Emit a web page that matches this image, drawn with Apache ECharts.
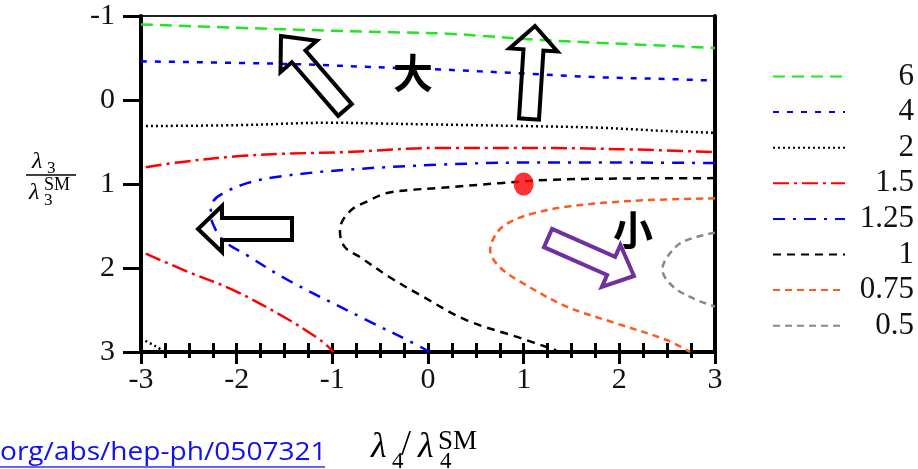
<!DOCTYPE html>
<html><head><meta charset="utf-8">
<script src="https://cdn.jsdelivr.net/npm/echarts@6/dist/echarts.min.js"></script>
<style>html,body{margin:0;padding:0;background:#fff;}#c{width:918px;height:469px;}</style>
</head><body><div id="c"></div>
<script>
// ---- data ----
const levels = ['6', '4', '2', '1.5', '1.25', '1', '0.75', '0.5'];
const xTicks = [-3, -2, -1, 0, 1, 2, 3];
const yTicks = [-1, 0, 1, 2, 3];
const contour6 = [[-3,-0.9],[-2,-0.86],[-1,-0.825],[-0.3,-0.805],[0.2,-0.79],[0.55,-0.765],[1.1,-0.72],[1.8,-0.68],[2.5,-0.645],[3,-0.62]];
const contour4 = [[-3,-0.46],[-1.5,-0.43],[-0.3,-0.38],[0,-0.37],[1.1,-0.31],[1.8,-0.27],[2.5,-0.25],[3,-0.23]];
const contour2a = [[-3,0.31],[-2,0.30],[-1,0.27],[-0.5,0.28],[0,0.29],[1,0.31],[1.8,0.33],[2.5,0.37],[3,0.39]];
const contour2b = [[-3,2.84],[-2.85,2.93],[-2.75,3.0]];
const contour15a = [[-2.95,0.80],[-2.59,0.74],[-2,0.67],[-1.5,0.64],[-0.85,0.62],[0.12,0.57],[1,0.57],[2,0.585],[3,0.62]];
const contour15b = [[-2.95,1.83],[-2.5,2.05],[-2.04,2.26],[-1.51,2.58],[-1.16,2.83],[-1.05,2.93],[-0.99,3.0]];
const contour125 = [[3,0.75],[2,0.745],[1,0.745],[0.12,0.77],[-0.85,0.83],[-1.55,0.91],[-1.89,0.99],[-2.14,1.11],[-2.25,1.21],[-2.27,1.33],[-2.25,1.47],[-2.14,1.67],[-1.89,1.85],[-1.47,2.14],[-0.64,2.62],[-0.16,2.89],[0.02,3.0]];
const contour1 = [[3,0.93],[2,0.935],[1.27,0.95],[0.75,0.99],[0.09,1.05],[-0.17,1.07],[-0.44,1.11],[-0.64,1.21],[-0.78,1.29],[-0.89,1.43],[-0.92,1.57],[-0.87,1.75],[-0.71,1.87],[-0.40,2.11],[-0.085,2.32],[0.40,2.62],[0.93,2.82],[1.34,2.98]];
const contour075 = [[3,1.17],[2.14,1.20],[1.45,1.27],[1.10,1.35],[0.86,1.45],[0.72,1.58],[0.65,1.79],[0.75,1.99],[0.99,2.18],[1.45,2.46],[1.97,2.66],[2.50,2.86],[2.74,3.0]];
const contour05 = [[3,1.58],[2.66,1.69],[2.50,1.87],[2.45,2.02],[2.56,2.22],[2.77,2.36],[3,2.46]];
const smPoint = [[1, 1]];

const chart = echarts.init(document.getElementById('c'));
const serif = '"Liberation Serif", "DejaVu Serif", serif';

const styles = {
  '6':    {color:'#22e622', type:[12,7]},
  '4':    {color:'#0000ff', type:[6,8]},
  '2':    {color:'#000000', type:[2,3]},
  '1.5':  {color:'#ff0000', type:[16,5,3,5]},
  '1.25': {color:'#0000ff', type:[12,8,3,8]},
  '1':    {color:'#000000', type:[8,6]},
  '0.75': {color:'#ff5a1e', type:[7,5]},
  '0.5':  {color:'#888888', type:[7,5]}
};
const curves = [
  ['6', contour6], ['4', contour4], ['2', contour2a], ['2', contour2b],
  ['1.5', contour15a], ['1.5', contour15b], ['1.25', contour125],
  ['1', contour1], ['0.75', contour075], ['0.5', contour05]
];
const series = curves.map(([name, data]) => ({
  name, type:'line', data, symbol:'none', showSymbol:false, smooth:0.35,
  lineStyle:{color:styles[name].color, width:2.5, type:styles[name].type},
  itemStyle:{color:styles[name].color}, z:3
}));
series.push({type:'scatter', data:smPoint, symbolSize:[20,23], itemStyle:{color:'#ff0000'}, z:4, silent:true});

function arrow(tx,ty,hx,hy,sw,hw,hl,color){
  const dx=hx-tx, dy=hy-ty, L=Math.hypot(dx,dy);
  const ux=dx/L, uy=dy/L, nx=-uy, ny=ux, b=L-hl;
  const P=(a,n)=>[tx+ux*a+nx*n, ty+uy*a+ny*n];
  return {type:'polygon', z:100, shape:{points:[P(0,-sw/2),P(b,-sw/2),P(b,-hw/2),P(L,0),P(b,hw/2),P(b,sw/2),P(0,sw/2)]},
    style:{fill:null, stroke:color, lineWidth:4, lineJoin:'miter'}};
}
function txt(x,y,text,size,italic){
  return {type:'text', x, y, z:100, style:{text, font:(italic?'italic ':'')+size+'px '+serif, fill:'#000', textVerticalAlign:'top'}};
}

const tickStyle = {color:'#000', width:3};
chart.setOption({
  animation:false,
  grid:{left:141, right:203, top:16, bottom:117, show:true, borderColor:'#222', borderWidth:2},
  xAxis:[{type:'value', min:xTicks[0], max:xTicks[xTicks.length-1], interval:1, position:'bottom',
    axisLine:{onZero:false, lineStyle:{color:'#000', width:4}},
    axisTick:{inside:false, length:12, lineStyle:tickStyle},
    minorTick:{show:true, splitNumber:4, length:6, lineStyle:tickStyle},
    splitLine:{show:false},
    axisLabel:{color:'#111', fontFamily:serif, fontSize:30, margin:13}},
    {type:'value', min:xTicks[0], max:xTicks[xTicks.length-1], interval:1, position:'top', offset:-336,
    axisLine:{show:false, onZero:false},
    axisTick:{show:true, inside:false, length:9, lineStyle:tickStyle},
    minorTick:{show:true, splitNumber:4, length:9, lineStyle:tickStyle},
    splitLine:{show:false}, axisLabel:{show:false}}],
  yAxis:[{type:'value', inverse:true, min:yTicks[0], max:yTicks[yTicks.length-1], interval:1,
    axisLine:{show:true, onZero:false, lineStyle:{color:'#000', width:4}},
    axisTick:{show:true, inside:false, length:18, lineStyle:tickStyle},
    splitLine:{show:false},
    axisLabel:{color:'#111', fontFamily:serif, fontSize:30, margin:26}},
    {type:'value', inverse:true, min:-1, max:3, position:'right',
    axisLine:{show:true, onZero:false, lineStyle:{color:'#000', width:4}},
    axisTick:{show:false}, axisLabel:{show:false}, splitLine:{show:false}}],
  legend:{data:levels, orient:'vertical', left:767, top:56, itemWidth:72, itemHeight:14, itemGap:4.6,
    itemStyle:{opacity:0},
    formatter: n => '{a|' + n + '}',
    textStyle:{fontFamily:serif, fontSize:31, color:'#111', lineHeight:28,
      rich:{a:{width:64, align:'right', fontFamily:serif, fontSize:31, lineHeight:28, color:'#111'}}}},
  series,
  graphic:[
    arrow(345,110,281,36,18,48,27,'#000'),
    arrow(529,119,535,26,20,48,24,'#000'),
    arrow(292,229,198,229,22,46,24,'#000'),
    arrow(548,238,634,276,20,46,25,'#7030a0'),
    {type:'text', x:413, y:73, z:100, style:{text:'大', font:'bold 40px "Noto Sans CJK SC"', fill:'#000', textAlign:'center', textVerticalAlign:'middle'}},
    {type:'text', x:633, y:230, z:100, style:{text:'小', font:'bold 40px "Noto Sans CJK SC"', fill:'#000', textAlign:'center', textVerticalAlign:'middle'}},
    // y-axis name: lambda_3 / lambda_3^SM
    txt(32,150,'λ',24,true),
    txt(47,160,'3',17,false),
    {type:'line', z:100, shape:{x1:26,y1:175,x2:76,y2:175}, style:{stroke:'#000', lineWidth:1.3}},
    txt(29,181,'λ',24,true),
    txt(44,176,'SM',18,false),
    txt(44,192,'3',17,false),
    // x-axis name: lambda_4 / lambda_4^SM
    txt(371,430,'λ',36,true),
    txt(392,450,'4',23,false),
    txt(401,428,'/',36,false),
    txt(418,430,'λ',36,true),
    txt(438,428,'SM',27,false),
    txt(440,450,'4',23,false),
    // url
    {type:'text', x:0, y:440, scaleX:1.08, z:100, style:{text:'org/abs/hep-ph/0507321', font:'26px "Open Sans"', fill:'#1010f0', textVerticalAlign:'top'}},
    {type:'line', z:100, shape:{x1:0,y1:467,x2:325,y2:467}, style:{stroke:'#3030ff', lineWidth:1.5}}
  ]
});
</script></body></html>
